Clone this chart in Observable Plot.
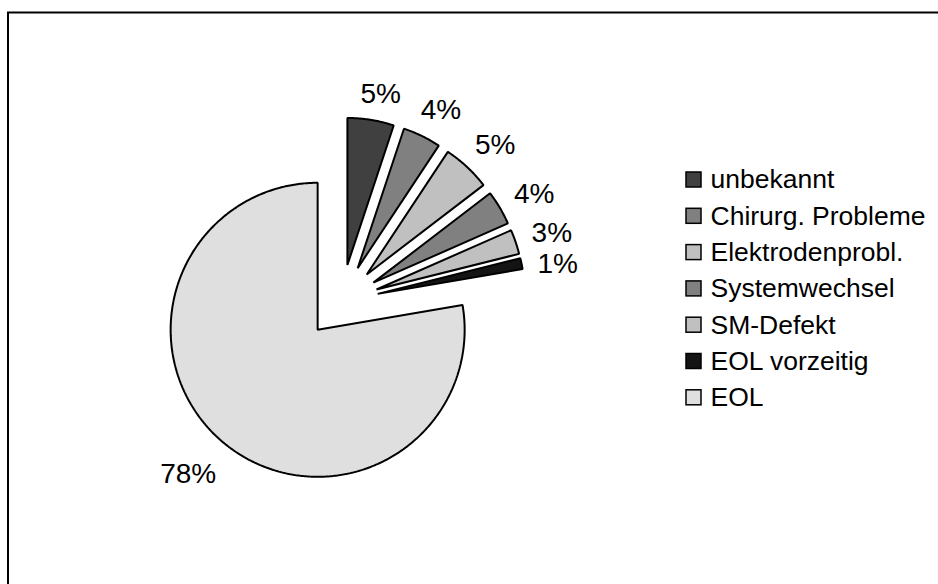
<!DOCTYPE html>
<html><head><meta charset="utf-8">
<script src="https://cdn.jsdelivr.net/npm/d3@7"></script>
<script src="https://cdn.jsdelivr.net/npm/@observablehq/plot@0.6"></script>
<style>html,body{margin:0;padding:0;background:#fff;overflow:hidden} svg{display:block}</style>
</head><body><div id="chart"></div>
<script>
// ---- data ----
const categories = ["unbekannt", "Chirurg. Probleme", "Elektrodenprobl.", "Systemwechsel", "SM-Defekt", "EOL vorzeitig", "EOL"];
const values = [5.1, 4.2, 5.3, 3.8, 2.7, 1.2, 77.7];
const labels = ["5%", "4%", "5%", "4%", "3%", "1%", "78%"];
const colors = ["#404040", "#808080", "#c0c0c0", "#808080", "#c0c0c0", "#141414", "#dfdfdf"];

// ---- layout ----
const W = 938, H = 584;
const cx = 341, cy = 301, R = 147, explode = 37;
const labelFont = 28, legendFont = 26.5, labelGap = 14, labelTurn = 1.5 * Math.PI / 180;
const labelMinSep = 31;
const legendX = 686, legendY0 = 179.5, legendStep = 36.3, swatch = 15;
const font = "'Liberation Sans', Arial, sans-serif";

const data = categories.map((name, i) => ({name, value: values[i], label: labels[i]}));
const arcs = d3.pie().sort(null).value(d => d.value).startAngle(0).endAngle(2 * Math.PI)(data);

const pts = [];
const labelData = [];
const charW = c => (c === "%" ? 0.889 : 0.556);
const baseHalfW = 1.445 * labelFont / 2;
arcs.forEach(a => {
  const mid = (a.startAngle + a.endAngle) / 2;
  const sx = Math.sin(mid), sy = -Math.cos(mid);
  const ox = cx + explode * sx, oy = cy + explode * sy;
  pts.push({name: a.data.name, x: ox, y: oy});
  const n = Math.max(2, Math.ceil((a.endAngle - a.startAngle) / 0.01));
  for (let k = 0; k <= n; k++) {
    const t = a.startAngle + (a.endAngle - a.startAngle) * k / n;
    pts.push({name: a.data.name, x: ox + R * Math.sin(t), y: oy - R * Math.cos(t)});
  }
  const halfW = [...a.data.label].reduce((s, c) => s + charW(c), 0) * labelFont / 2;
  const halfH = labelFont * 0.36;
  const support = Math.abs(sx) * halfW + Math.abs(sy) * halfH;
  const d = R + explode + labelGap + support + (halfW - baseHalfW) * 0.9;
  const la = mid + labelTurn;
  labelData.push({label: a.data.label, halfW, x: cx + d * Math.sin(la), y: cy - d * Math.cos(la)});
});
// simple collision avoidance between neighbouring labels (vertical push apart)
for (let i = 1; i < labelData.length; i++) {
  const p = labelData[i - 1], q = labelData[i];
  const overlapX = Math.abs(p.x - q.x) < p.halfW + q.halfW;
  const dy = q.y - p.y;
  if (overlapX && Math.abs(dy) < labelMinSep) {
    const push = (labelMinSep - Math.abs(dy)) / 2 * (dy >= 0 ? 1 : -1);
    p.y -= push; q.y += push;
  }
}

const legendData = categories.map((name, i) => ({
  name,
  y: legendY0 + i * legendStep
}));

const chart = Plot.plot({
  width: W, height: H,
  margin: 0,
  x: {domain: [0, W], range: [0, W], axis: null},
  y: {domain: [0, H], range: [0, H], axis: null},
  color: {domain: categories, range: colors},
  style: {fontFamily: font, background: "#fff"},
  marks: [
    Plot.frame({stroke: "black", strokeWidth: 2, insetLeft: 7.5, insetTop: 12, insetRight: -20, insetBottom: -20}),
    Plot.line(pts, {x: "x", y: "y", z: "name", fill: "name", stroke: "black", strokeWidth: 2, curve: "linear-closed", strokeLinejoin: "miter"}),
    Plot.text(labelData, {x: "x", y: "y", text: "label", fontSize: labelFont, fill: "black", textAnchor: "middle"}),
    Plot.rect(legendData, {x1: legendX, x2: legendX + swatch, y1: d => d.y - swatch / 2, y2: d => d.y + swatch / 2, fill: "name", stroke: "black", strokeWidth: 1.5}),
    Plot.text(legendData, {x: legendX + swatch + 9, y: "y", text: "name", fontSize: legendFont, fill: "black", textAnchor: "start"})
  ]
});
document.getElementById("chart").appendChild(chart);
</script>
</body></html>
